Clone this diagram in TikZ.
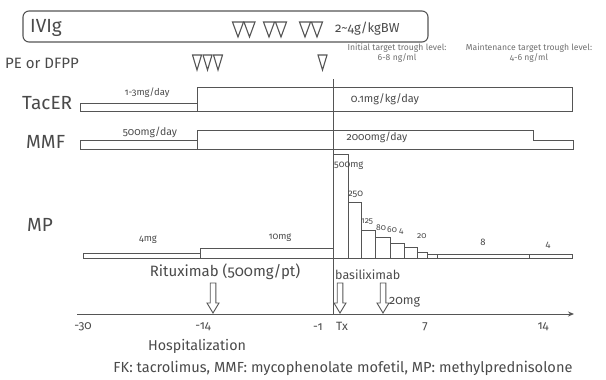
\documentclass[tikz,border=0pt]{standalone}
\usepackage{fontspec}
\setmainfont[Numbers=OldStyle]{Fira Sans}
\usetikzlibrary{arrows.meta}
\definecolor{ln}{HTML}{555555}
\definecolor{tx}{HTML}{4A4A4A}
\begin{document}
\begin{tikzpicture}[x=1pt,y=-1pt,
  bar/.style={draw=ln, line width=0.9pt, fill=white},
  lbl/.style={text=tx, inner sep=0pt},
  big/.style={lbl, font=\fontsize{19}{20}\selectfont},
  mid/.style={lbl, font=\fontsize{12.5}{14}\selectfont},
  sml/.style={lbl, font=\fontsize{9.5}{11}\selectfont},
  tiny/.style={lbl, text=tx!80, font=\fontsize{8.6}{10}\selectfont, align=center},
  tri/.pic={\draw[ln, line width=1.1pt, line join=miter] (-5.5,0) -- (5.5,0) -- (0,15) -- cycle;},
  trip/.pic={\draw[ln, line width=1.1pt, line join=miter] (-4.5,0) -- (4.5,0) -- (0,15) -- cycle;},
  harrow/.pic={\draw[ln, line width=0.9pt, fill=white] (-2.8,0) -- (2.8,0) -- (2.8,20) -- (6,20) -- (0,30) -- (-6,20) -- (-2.8,20) -- cycle;}
]
\useasboundingbox (0,0) rectangle (606,380);

% IVIg box
\draw[ln, line width=1.1pt, rounded corners=6pt] (23,11) rectangle (428,42);
\node[big, anchor=west] (ivig) at (30,28) {IVIg};
\foreach \x in {238,249.5,269,281,305,317} \pic at (\x,22) {tri};
\node[lbl, anchor=west, font=\fontsize{13}{14}\selectfont] (ivigdose) at (335,29) {2\textasciitilde4g/kgBW};

% PE or DFPP
\node[lbl, anchor=west, font=\fontsize{15}{16}\selectfont] (pe) at (5,63) {PE or DFPP};
\foreach \x in {197,207.5,218,322.5} \pic at (\x,55) {trip};

% target trough levels
\node[tiny] (initial) at (397,53) {Initial target trough level:\\6-8 ng/ml};
\node[tiny] (maint) at (529,53) {Maintenance target trough level:\\4-6 ng/ml};

% Tx vertical line
\coordinate (txtop) at (333,79);
\coordinate (txbot) at (333,314);

% TacER
\node[big, anchor=west] (tacer) at (22,103) {TacER};
\draw[bar] (80,103) rectangle (197,111);
\draw[bar] (197,87) rectangle (572,111);
\node[sml] (tac1) at (147,93) {1-3mg/day};
\node[lbl, font=\fontsize{11}{12}\selectfont] (tac2) at (385,99) {0.1mg/kg/day};

% MMF
\node[big, anchor=west] (mmf) at (26,142) {MMF};
\draw[bar] (80,140) rectangle (197,149);
\draw[bar] (197,149) -- (197,130) -- (533,130) -- (533,140) -- (573,140) -- (573,149) -- cycle;
\node[lbl, font=\fontsize{10.5}{12}\selectfont] (mmf1) at (150,132) {500mg/day};
\node[lbl, font=\fontsize{10.5}{12}\selectfont] (mmf2) at (377,137) {2000mg/day};

\draw[ln, line width=1pt] (txtop) -- (txbot);

% MP
\node[big, anchor=west] (mp) at (27,225) {MP};
\draw[bar] (83,253) rectangle (200,258);
\draw[bar] (200,248) rectangle (333,258);
\draw[bar] (333,154) rectangle (348,258);
\draw[bar] (348,202) rectangle (361,258);
\draw[bar] (361,230) rectangle (375,258);
\draw[bar] (375,237) rectangle (390,258);
\draw[bar] (390,243) rectangle (404,258);
\draw[bar] (404,247) rectangle (417,258);
\draw[bar] (417,252) rectangle (427,258);
\draw[bar] (427,254) rectangle (437,258);
\draw[bar] (437,254) rectangle (529,258);
\draw[bar] (529,254) rectangle (572,258);
\node[sml] (mp4) at (148,240) {4mg};
\node[sml] (mp10) at (280,238) {10mg};
\node[sml, anchor=west] (mp500) at (334,166) {500mg};
\node[sml, anchor=west] (mp250) at (348,194) {250};
\node[sml, anchor=west, font=\fontsize{8.5}{10}\selectfont] (mp125) at (361,222) {125};
\node[sml, anchor=west, font=\fontsize{8.5}{10}\selectfont] (mp80) at (376,228) {80};
\node[sml, anchor=west, font=\fontsize{8.5}{10}\selectfont] (mp60) at (387,230) {60};
\node[sml, anchor=west, font=\fontsize{8.5}{10}\selectfont] (mp40) at (399,232) {4};
\node[sml, anchor=west, font=\fontsize{8.5}{10}\selectfont] (mp20) at (417,236) {20};
\node[sml] (mp8) at (483,242) {8};
\node[sml] (mp4b) at (548,245) {4};

% antibodies
\node[lbl, font=\fontsize{15}{16}\selectfont] (ritux) at (225,272) {Rituximab (500mg/pt)};
\node[mid, anchor=west] (basil) at (335,275) {basiliximab};
\pic at (213,283) {harrow};
\pic at (340,283) {harrow};
\pic at (383,283) {harrow};
\node[mid, anchor=west] (twenty) at (389,302) {20mg};

% axis
\coordinate (axs) at (77,314);
\coordinate (axe) at (574,314);
\draw[ln, line width=1pt, -{Stealth[length=6pt,width=5pt]}] (axs) -- (axe);
\foreach \v/\x in {-30/83,-14/203,-1/318,7/425,14/543}
  \node[lbl, font=\fontsize{12}{13}\selectfont] at (\x,327) {\v};
\node[lbl, font=\fontsize{12}{13}\selectfont] (tx) at (342,326) {Tx};
\node[lbl, font=\fontsize{14.3}{16}\selectfont] (hosp) at (197,346) {Hospitalization};
\node[lbl, font=\fontsize{14.6}{16}\selectfont] (foot) at (343,368) {FK: tacrolimus, MMF: mycophenolate mofetil, MP: methylprednisolone};
\end{tikzpicture}
\end{document}
